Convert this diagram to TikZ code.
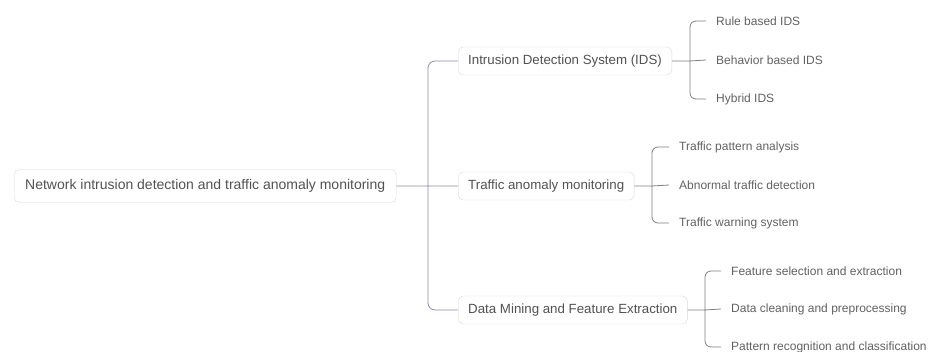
\documentclass[tikz,border=0pt]{standalone}
\usepackage{fontspec}
\setmainfont{Liberation Sans}
\tikzset{main node/.style={draw=black!15,rounded corners=5pt,fill=white,text=black!68,font=\fontsize{13.3}{16}\selectfont,inner xsep=10pt,minimum height=28pt,anchor=west},
	root node/.style={main node,font=\fontsize{14}{16}\selectfont,minimum height=33pt,inner xsep=11pt},
	leaf node/.style={text=black!62,font=\fontsize{12}{14}\selectfont,inner xsep=10pt,inner ysep=2pt,anchor=west},
	trunk/.style={draw=blue!30!black!45,line width=0.8pt,rounded corners=7pt},
	branch/.style={draw=black!50,line width=0.8pt,rounded corners=6pt},
}
\begin{document}
\begin{tikzpicture}[x=1pt,y=-1pt]
	\useasboundingbox (0,0) rectangle (932,352);
	\node[root node] (root) at (14,186) {Network intrusion detection and traffic anomaly monitoring};
	\node[main node] (ids) at (458,61) {Intrusion Detection System (IDS)};
	\node[main node] (tam) at (458,186) {Traffic anomaly monitoring};
	\node[main node] (dm) at (458,310) {Data Mining and Feature Extraction};
	
	\node[leaf node] (ids1) at (706,21) {Rule based IDS};
	\node[leaf node] (ids2) at (706,60) {Behavior based IDS};
	\node[leaf node] (ids3) at (706,99) {Hybrid IDS};
	\node[leaf node] (tam1) at (669,147) {Traffic pattern analysis};
	\node[leaf node] (tam2) at (669,185) {Abnormal traffic detection};
	\node[leaf node] (tam3) at (669,223) {Traffic warning system};
	\node[leaf node] (dm1) at (721,271) {Feature selection and extraction};
	\node[leaf node] (dm2) at (721,309) {Data cleaning and preprocessing};
	\node[leaf node] (dm3) at (721,347) {Pattern recognition and classification};
	
	\coordinate (j0) at (428,186);
	\coordinate (j1) at (690,61);
	\coordinate (j2) at (652,186);
	\coordinate (j3) at (705,310);
	
	\path[trunk] (root.east) -- (tam.west)
	(j0) |- (ids.west)
	(j0) |- (dm.west);
	
	\path[branch]
	(ids.east) -- (j1) (j1) |- (ids1.west) (j1) |- (ids3.west) (j1) -- (ids2.west)
	(tam.east) -- (j2) (j2) |- (tam1.west) (j2) |- (tam3.west) (j2) -- (tam2.west)
	(dm.east) -- (j3) (j3) |- (dm1.west) (j3) |- (dm3.west) (j3) -- (dm2.west);
\end{tikzpicture}
\end{document}
